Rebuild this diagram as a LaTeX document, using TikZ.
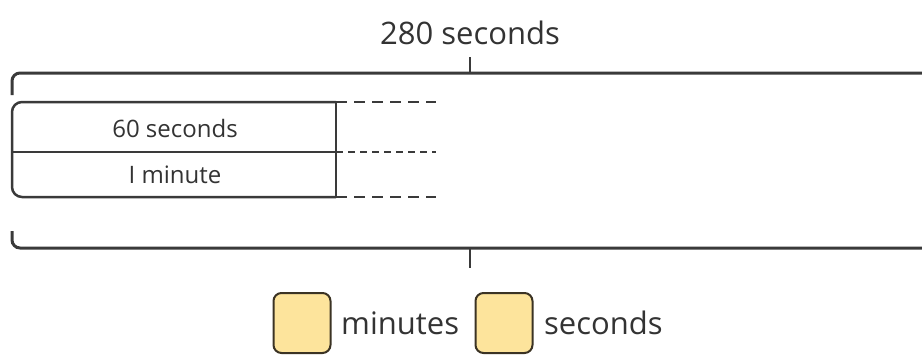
\documentclass[tikz,border=0pt]{standalone}
\usepackage{fontspec}
\setmainfont{Open Sans}
\definecolor{ln}{HTML}{3A3A3A}
\definecolor{txt}{HTML}{333333}
\definecolor{leg}{HTML}{FDE49C}
\definecolor{legb}{HTML}{3B3324}
\begin{document}
\begin{tikzpicture}[x=1pt,y=-1pt,
  brk/.style={draw=ln,line width=3pt,rounded corners=8pt},
  tick/.style={draw=ln,line width=2.2pt},
  boxline/.style={draw=ln,line width=2.5pt},
  midline/.style={draw=ln,line width=1.6pt},
  dashbig/.style={draw=ln,line width=2.5pt,dash pattern=on 11pt off 7pt},
  dashsmall/.style={draw=ln,line width=1.5pt,dash pattern=on 7pt off 5pt},
  bigtxt/.style={font=\fontsize{31}{36}\selectfont,text=txt,inner sep=0pt},
  smalltxt/.style={font=\fontsize{24}{28}\selectfont,text=txt,inner sep=0pt},
  legbox/.style={draw=legb,fill=leg,line width=2pt,rounded corners=8pt,minimum width=57pt,minimum height=60pt,inner sep=0pt}]
\useasboundingbox (0,0) rectangle (922,354);
% title
\node[bigtxt] (title) at (470,33) {280 seconds};
% top bracket
\coordinate (tl) at (12,95);
\coordinate (tc) at (470,73);
\coordinate (tctop) at (470,57);
\draw[brk] (tl) -- (12,73) -- (940,73);
\draw[tick] (tc) -- (tctop);
% inner box
\coordinate (b1) at (336,102);
\coordinate (b2) at (336,152);
\coordinate (b3) at (336,197);
\draw[boxline,rounded corners=10pt] (b1) -- (12,102) -- (12,197) -- (b3);
\draw[boxline] (b1) -- (b3);
\draw[midline] (12,152) -- (b2);
\coordinate (d1) at (436,102);
\coordinate (d2) at (436,152);
\coordinate (d3) at (436,197);
\draw[dashbig] (b1) -- (d1);
\draw[dashsmall] (b2) -- (d2);
\draw[dashbig] (b3) -- (d3);
\node[smalltxt] (sixty) at (175,128) {60 seconds};
\node[smalltxt] (onemin) at (175,175) {I minute};
% bottom bracket
\coordinate (bl) at (12,231);
\coordinate (bc) at (470,248);
\coordinate (bcbot) at (470,268);
\draw[brk] (bl) -- (12,248) -- (940,248);
\draw[tick] (bc) -- (bcbot);
% legend
\node[legbox] (lm) at (302,323) {};
\node[bigtxt,anchor=west] (lmt) at (341,323) {minutes};
\node[legbox] (ls) at (504,323) {};
\node[bigtxt,anchor=west] (lst) at (544,323) {seconds};
\end{tikzpicture}
\end{document}
